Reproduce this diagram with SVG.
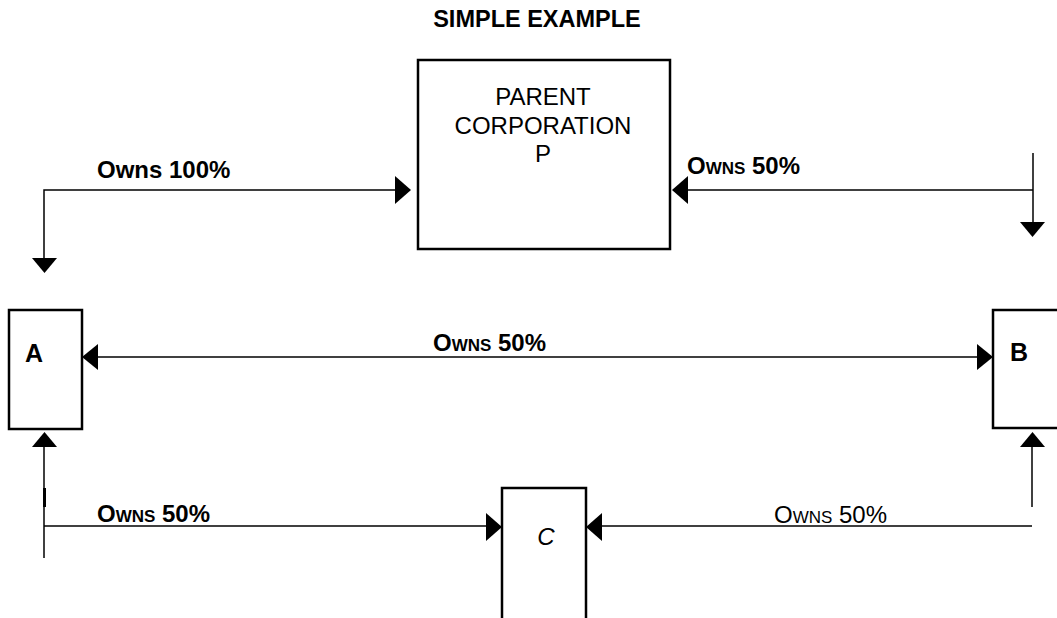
<svg xmlns="http://www.w3.org/2000/svg" width="1057" height="618" viewBox="0 0 1057 618">
<defs>
<style>
.box{fill:#fff;stroke:#000;stroke-width:2.5}
.ln{fill:none;stroke:#000;stroke-width:1.5}
.ah{fill:#000}
.t{font-family:"Liberation Sans",Arial,Helvetica,sans-serif;fill:#000}
.b{font-weight:bold}
.sc{font-variant:small-caps}
</style>
</defs>
<rect width="1057" height="618" fill="#fff"/>
<text class="t b" x="537" y="27" font-size="23.5" text-anchor="middle">SIMPLE EXAMPLE</text>

<g id="parent">
<rect class="box" x="418" y="60" width="252" height="189"/>
<text class="t" x="543" y="105" font-size="24" text-anchor="middle">PARENT</text>
<text class="t" x="543" y="134" font-size="24" text-anchor="middle">CORPORATION</text>
<text class="t" x="543" y="162" font-size="24" text-anchor="middle">P</text>
</g>
<g id="nodeA">
<rect class="box" x="9" y="310" width="73" height="119"/>
<text class="t b" x="25" y="362" font-size="25">A</text>
</g>
<g id="nodeB">
<rect class="box" x="993" y="310" width="80" height="118"/>
<text class="t b" x="1010" y="361" font-size="25">B</text>
</g>
<g id="nodeC">
<rect class="box" x="502" y="488" width="84" height="140"/>
<text class="t" x="546" y="545" font-size="24" font-style="italic" text-anchor="middle">C</text>
</g>

<g id="connectors">
<!-- Owns 100% -->
<polyline class="ln" points="44,258 44,190 396,190"/>
<polygon class="ah" points="395,176 411,190 395,204"/>
<polygon class="ah" points="32,258 57,258 44.5,273"/>
<!-- top right Owns 50% -->
<line class="ln" x1="1033" y1="190" x2="688" y2="190"/>
<polygon class="ah" points="688,176 672,190 688,204"/>
<line class="ln" x1="1033" y1="153" x2="1033" y2="222"/>
<polygon class="ah" points="1020,222 1045,222 1032.5,237"/>
<!-- A-B Owns 50% -->
<line class="ln" x1="98" y1="357" x2="977" y2="357"/>
<polygon class="ah" points="98,344 82,357 98,370"/>
<polygon class="ah" points="977,344 993,357 977,370"/>
<!-- A to C -->
<line class="ln" x1="44" y1="447" x2="44" y2="558"/>
<line x1="44.5" y1="488" x2="44.5" y2="507" stroke="#000" stroke-width="3"/>
<polygon class="ah" points="32,447 57,447 44.5,432"/>
<line class="ln" x1="44" y1="526" x2="487" y2="526"/>
<polygon class="ah" points="486,513 502,527 486,541"/>
<!-- B to C -->
<line class="ln" x1="1032" y1="447" x2="1032" y2="507"/>
<polygon class="ah" points="1020,447 1045,447 1032.5,432"/>
<line class="ln" x1="1032" y1="526" x2="601" y2="526"/>
<polygon class="ah" points="602,513 586,527 602,541"/>
</g>

<g id="labels">
<text class="t b" x="97" y="178" font-size="24">Owns 100%</text>
<text class="t b sc" x="687" y="174" font-size="24">Owns 50%</text>
<text class="t b sc" x="433" y="351" font-size="24">Owns 50%</text>
<text class="t b sc" x="97" y="522" font-size="24">Owns 50%</text>
<text class="t sc" x="774" y="523" font-size="24">Owns 50%</text>
</g>
</svg>
